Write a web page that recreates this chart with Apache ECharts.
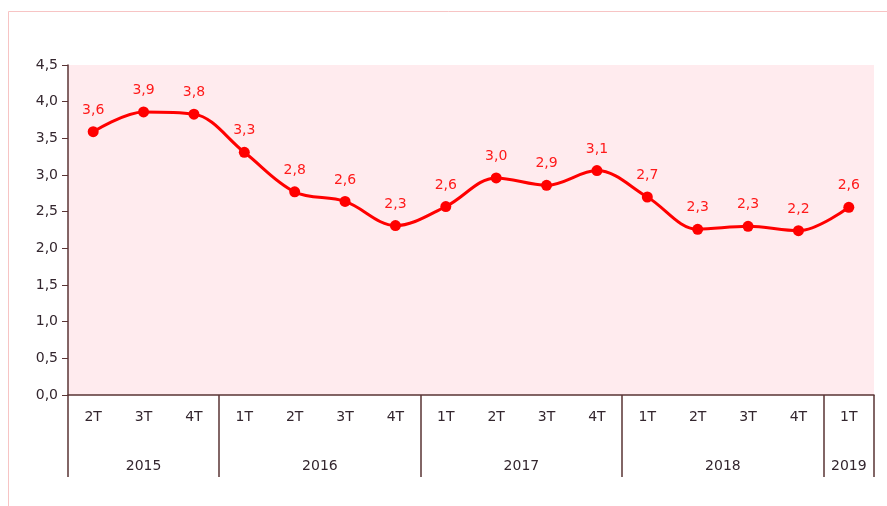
<!DOCTYPE html>
<html>
<head>
<meta charset="utf-8">
<script src="https://cdn.jsdelivr.net/npm/echarts@6/dist/echarts.min.js"></script>
<style>
  html, body { margin: 0; padding: 0; background: #fff; }
  #chart { width: 887px; height: 506px; }
</style>
</head>
<body>
<div id="chart"></div>
<script>
// trimestres y valores (% )
const quarters = ['2T', '3T', '4T', '1T', '2T', '3T', '4T', '1T', '2T', '3T', '4T', '1T', '2T', '3T', '4T', '1T']
const values = [3.59, 3.86, 3.83, 3.31, 2.77, 2.64, 2.31, 2.57, 2.96, 2.86, 3.06, 2.7, 2.26, 2.3, 2.24, 2.56]
// años: etiqueta, posición central y límites del grupo (en unidades de trimestre)
const years = ['2015', '2016', '2017', '2018', '2019']
const yearCenters = [1.5, 5, 9, 13, 15.5]
const yearBounds = [0, 3, 7, 11, 15, 16]

const fmt = (v) => v.toFixed(1).replace('.', ',')
const axisColor = '#5a3434'
const textColor = '#33262e'
const fontFamily = '"DejaVu Sans", sans-serif'

const chart = echarts.init(document.getElementById('chart'))

const option = {
  backgroundColor: '#fff',
  textStyle: { fontFamily },
  graphic: [{
    type: 'rect',
    shape: { x: 8.5, y: 11.5, width: 900, height: 600 },
    style: { fill: 'none', stroke: '#f7c4c4', lineWidth: 1 },
    silent: true
  }],
  grid: {
    left: 68, right: 13, top: 65, bottom: 111,
    show: true, backgroundColor: '#ffebee', borderWidth: 0
  },
  xAxis: [
    {
      type: 'category',
      data: quarters,
      position: 'bottom',
      axisLine: { lineStyle: { color: axisColor, width: 1.5 } },
      axisTick: { show: false },
      axisLabel: { color: textColor, fontSize: 14, margin: 15, fontFamily }
    },
    {
      type: 'value',
      min: 0,
      max: 16,
      position: 'bottom',
      axisLine: { show: false },
      splitLine: { show: false },
      axisTick: {
        show: true,
        customValues: yearBounds,
        length: 82,
        inside: false,
        lineStyle: { color: axisColor, width: 1.5 }
      },
      axisLabel: {
        customValues: yearCenters,
        color: textColor,
        fontSize: 14,
        margin: 64,
        fontFamily,
        formatter: (v) => years[yearCenters.indexOf(v)] || ''
      }
    }
  ],
  yAxis: {
    type: 'value',
    min: 0,
    max: 4.5,
    interval: 0.5,
    axisLine: { show: true, lineStyle: { color: axisColor, width: 1.5 } },
    axisTick: { show: true, length: 6, lineStyle: { color: axisColor } },
    splitLine: { show: false },
    axisLabel: {
      color: textColor, fontSize: 14, margin: 10, fontFamily,
      formatter: (v) => fmt(v)
    }
  },
  series: [{
    type: 'line',
    xAxisIndex: 0,
    data: values,
    smooth: 0.35,
    symbol: 'circle',
    symbolSize: 11,
    lineStyle: { color: '#ff0000', width: 3 },
    itemStyle: { color: '#ff0000' },
    label: {
      show: true,
      position: 'top',
      distance: 9,
      color: '#ff1a1a',
      fontSize: 14,
      fontFamily,
      formatter: (p) => fmt(p.value)
    }
  }]
}

chart.setOption(option)
</script>
</body>
</html>
